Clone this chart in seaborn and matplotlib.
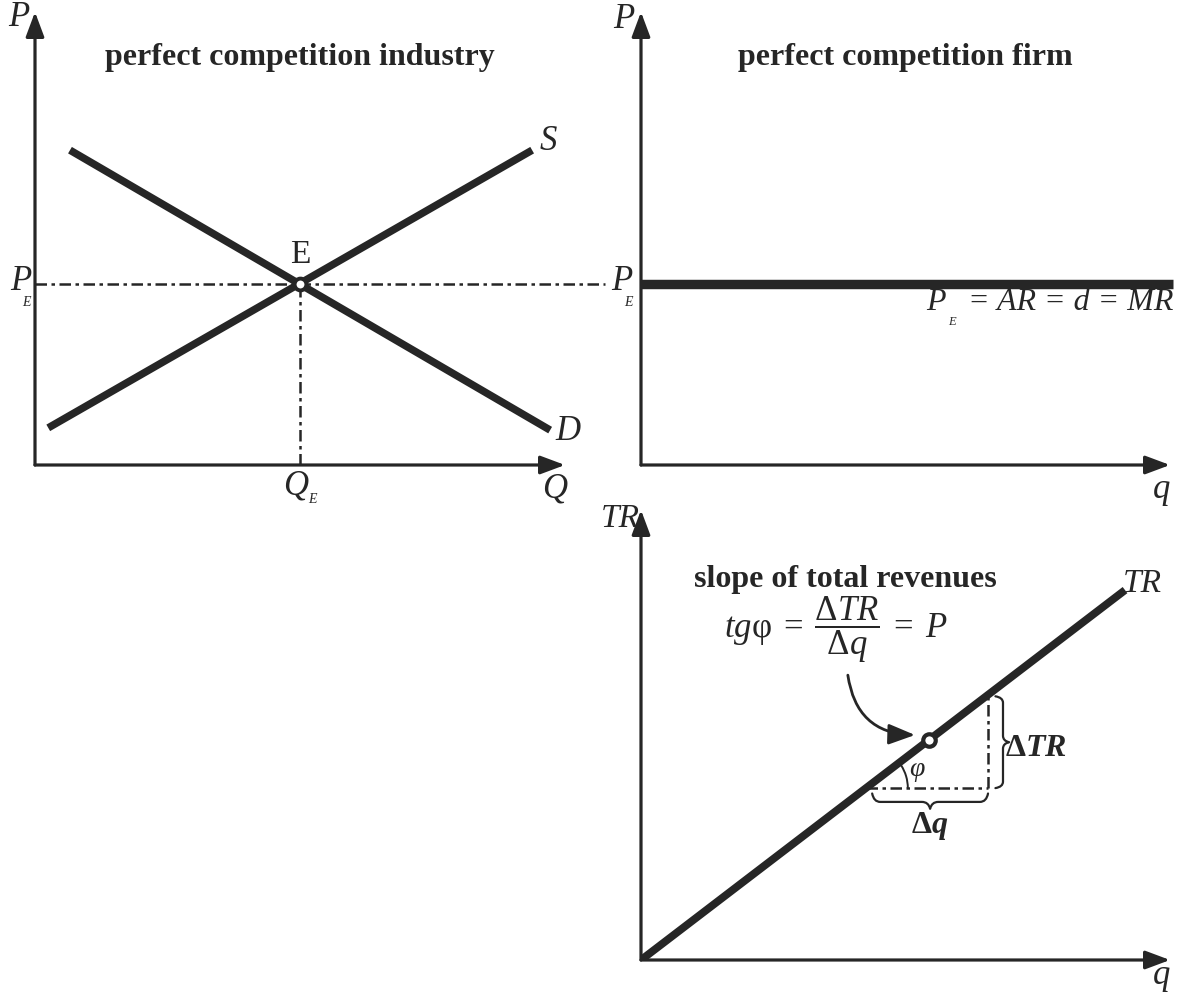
import numpy as np
import matplotlib
matplotlib.use("Agg")
import matplotlib.pyplot as plt
import seaborn as sns
from matplotlib.path import Path
from matplotlib.patches import PathPatch, Arc

# ---------------- data (schematic units) ----------------
# panel 1: perfect competition industry
supply_q = [0.25, 9.38]
supply_p = [0.82, 6.95]
demand_q = [0.66, 9.72]
demand_p = [6.95, 0.77]
eq_q = [5.0]
eq_p = [4.0]
# panel 2: perfect competition firm
firm_q = [0.0, 10.05]
firm_p = [4.0, 4.0]
# panel 3: total revenue
tr_q = [0.0, 9.15]
tr_r = [0.0, 8.22]
pt_q = [5.44]
pt_r = [4.89]
tri_q = [4.25, 6.56]
tri_r = [3.82, 5.89]

INK = "#262626"
W, H = 1180, 994

sns.set_theme(style="white")
plt.rcParams["font.family"] = ["Liberation Serif", "DejaVu Serif"]
plt.rcParams["mathtext.fontset"] = "custom"
plt.rcParams["mathtext.rm"] = "Liberation Serif"
plt.rcParams["mathtext.it"] = "Liberation Serif:italic"
plt.rcParams["mathtext.bf"] = "Liberation Serif:bold"
try:
    plt.rcParams["mathtext.bfit"] = "Liberation Serif:bold:italic"
except Exception:
    pass

fig = plt.figure(figsize=(W / 100, H / 100), dpi=100)


def make_ax(left, top, right, bottom):
    ax = fig.add_axes([left / W, 1 - bottom / H, (right - left) / W, (bottom - top) / H])
    ax.set_xlim(0, 10)
    ax.set_ylim(0, 10)
    for s in ax.spines.values():
        s.set_visible(False)
    ax.set_xticks([])
    ax.set_yticks([])
    ax.patch.set_alpha(0)
    kw = dict(arrowstyle="-|>,head_length=0.75,head_width=0.28", lw=2.3, color=INK,
              mutation_scale=20, shrinkA=0, shrinkB=0)
    ax.annotate("", xy=(1, 0), xytext=(0, 0), xycoords="axes fraction", arrowprops=kw)
    ax.annotate("", xy=(0, 1), xytext=(0, 0), xycoords="axes fraction", arrowprops=kw)
    return ax


def ftxt(x, y, s, size=24, **kw):
    kw.setdefault("ha", "center")
    kw.setdefault("va", "center")
    kw.setdefault("color", INK)
    return fig.text(x / W, 1 - y / H, s, fontsize=size, **kw)


def sub_label(xp, yp, main, xs, ys, size=25, subsize=10):
    ftxt(xp, yp, main, size=size, fontstyle="italic")
    ftxt(xs, ys, "E", size=subsize, fontstyle="italic")


DASH = (0, (4.6, 1.8, 1.4, 1.8))
DLW = 1.8

# ---------------- panel 1 ----------------
ax1 = make_ax(35, 12, 565, 465)
sns.lineplot(x=supply_q, y=supply_p, ax=ax1, color=INK, lw=5.4, estimator=None, sort=False,
             solid_capstyle="butt")
sns.lineplot(x=demand_q, y=demand_p, ax=ax1, color=INK, lw=5.4, estimator=None, sort=False,
             solid_capstyle="butt")
sns.lineplot(x=[0, 10.75], y=[eq_p[0], eq_p[0]], ax=ax1, color=INK, lw=DLW, estimator=None,
             sort=False, linestyle=DASH, clip_on=False)
sns.lineplot(x=[eq_q[0], eq_q[0]], y=[0, eq_p[0]], ax=ax1, color=INK, lw=DLW, estimator=None,
             sort=False, linestyle=DASH)
ax1.plot(eq_q, eq_p, "o", ms=8.5, mfc="white", mec=INK, mew=2.8, zorder=5)

# ---------------- panel 2 ----------------
ax2 = make_ax(641, 12, 1170, 465)
sns.lineplot(x=firm_q, y=firm_p, ax=ax2, color=INK, lw=6.8, estimator=None, sort=False,
             solid_capstyle="butt", clip_on=False)

# ---------------- panel 3 ----------------
ax3 = make_ax(641, 510, 1170, 960)
sns.lineplot(x=tr_q, y=tr_r, ax=ax3, color=INK, lw=5.6, estimator=None, sort=False,
             solid_capstyle="butt")
sns.lineplot(x=tri_q, y=[tri_r[0], tri_r[0]], ax=ax3, color=INK, lw=DLW, estimator=None,
             sort=False, linestyle=DASH)
sns.lineplot(x=[tri_q[1], tri_q[1]], y=tri_r, ax=ax3, color=INK, lw=DLW, estimator=None,
             sort=False, linestyle=DASH)
ax3.plot(pt_q, pt_r, "o", ms=9.0, mfc="white", mec=INK, mew=3.0, zorder=5)

# angle arc phi
ax3.add_patch(Arc((tri_q[0], tri_r[0]), 2 * 42 / 52.9, 2 * 42 / 45.0, theta1=0, theta2=37.4,
                  color=INK, lw=1.4))


def brace(ax, a0, a1, c, d, horizontal=True, lw=1.6):
    m = (a0 + a1) / 2
    r = (a1 - a0) * 0.07
    h = d * 0.55
    pts = [(a0, c), (a0 + r * 0.2, c + h), (a0 + r, c + h), (m - r, c + h), (m - r * 0.2, c + h),
           (m, c + d), (m + r * 0.2, c + h), (m + r, c + h), (a1 - r, c + h),
           (a1 - r * 0.2, c + h), (a1, c)]
    codes = [Path.MOVETO, Path.CURVE3, Path.CURVE3, Path.LINETO, Path.CURVE3, Path.CURVE3,
             Path.CURVE3, Path.CURVE3, Path.LINETO, Path.CURVE3, Path.CURVE3]
    if not horizontal:
        pts = [(y, x) for (x, y) in pts]
    ax.add_patch(PathPatch(Path(pts, codes), fc="none", ec=INK, lw=lw, clip_on=False,
                           joinstyle="round", capstyle="round"))


brace(ax3, 4.37, 6.56, 3.70, -0.34, horizontal=True)
brace(ax3, 3.82, 5.86, 6.70, 0.26, horizontal=False)

# curved arrow to the point
ax3.annotate("", xy=(5.18, 5.0), xytext=(3.91, 6.33), xycoords="data",
             arrowprops=dict(arrowstyle="-|>,head_length=0.9,head_width=0.35", lw=2.0,
                             color=INK, mutation_scale=18, shrinkA=0, shrinkB=0,
                             connectionstyle="arc3,rad=0.42"))

# ---------------- texts ----------------
ftxt(300, 58, "perfect competition industry", size=23, fontweight="bold")
ftxt(905, 58, "perfect competition firm", size=23, fontweight="bold")
ftxt(845, 579, "slope of total revenues", size=23, fontweight="bold")

ftxt(19, 18, "P", size=25, fontstyle="italic")
ftxt(624, 19, "P", size=25, fontstyle="italic")
ftxt(620, 519, "TR", size=24, fontstyle="italic")
ftxt(555, 489, "Q", size=25, fontstyle="italic")
ftxt(1162, 490, "q", size=25, fontstyle="italic")
ftxt(1162, 975, "q", size=25, fontstyle="italic")
sub_label(296, 486, "Q", 312, 500)
sub_label(21, 282, "P", 26, 303)
sub_label(622, 282, "P", 628, 303)
ftxt(300, 255, "E", size=24)
ftxt(548, 141, "S", size=25, fontstyle="italic")
ftxt(568, 431, "D", size=25, fontstyle="italic")
ftxt(1173, 302, "= AR = d = MR", size=23, ha="right", fontstyle="italic")
ftxt(936, 302, "P", size=23, fontstyle="italic")
ftxt(952, 322, "E", size=9, fontstyle="italic")
ftxt(1142, 584, "TR", size=24, fontstyle="italic")
ftxt(836, 630, r"$tg\mathrm{\varphi}\;=\;\dfrac{\Delta TR}{\Delta q}\;=\;P$", size=25)
try:
    ftxt(1036, 748, r"$\mathbf{\Delta}\mathbfit{TR}$", size=23)
    ftxt(930, 826, r"$\mathbf{\Delta}\mathbfit{q}$", size=23)
    fig.canvas.draw()
except Exception:
    for t in fig.texts[-2:]:
        t.remove()
    ftxt(1036, 748, "ΔTR", size=23, fontweight="bold", fontstyle="italic")
    ftxt(930, 826, "Δq", size=23, fontweight="bold", fontstyle="italic")
ftxt(917, 771, r"$\varphi$", size=20)

fig.savefig("out.png", dpi=100)
